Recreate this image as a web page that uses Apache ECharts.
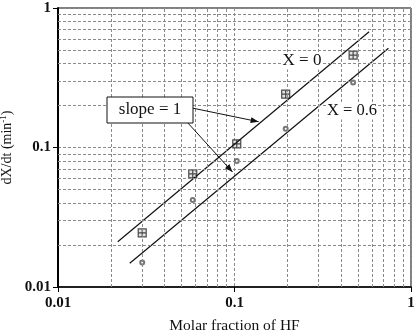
<!DOCTYPE html>
<html><head><meta charset="utf-8">
<script src="https://cdn.jsdelivr.net/npm/echarts@6/dist/echarts.min.js"></script>
<style>html,body{margin:0;padding:0;background:#fff}#c{width:414px;height:334px}</style>
</head><body><div id="c"></div>
<script>
// Data
const hfFraction = [0.03, 0.058, 0.103, 0.195, 0.47];
const rateX0 = [0.0244, 0.0646, 0.106, 0.241, 0.46];
const rateX06 = [0.015, 0.042, 0.080, 0.136, 0.292];
const fitX0x = [0.0218, 0.579];
const fitX0y = [0.0211, 0.676];
const fitX06x = [0.0255, 0.745];
const fitX06y = [0.0148, 0.514];
const minorGrid = [0.02,0.03,0.04,0.05,0.06,0.07,0.08,0.09,0.2,0.3,0.4,0.5,0.6,0.7,0.8,0.9];
const arrowTips = [[0.137, 0.153], [0.0975, 0.0667]];
const xTickLabels = {0.01:'0.01', 0.1:'0.1', 1:'1'};
const yTickLabels = {0.01:'0.01', 0.1:'0.1', 1:'1'};

const FONT = 'Liberation Serif';
const gridStyle = {color:'#8a8a8a', width:1, type:[3,2]};
const chart = echarts.init(document.getElementById('c'));
const sqPath = 'path://M0,0L10,0L10,10L0,10Z M5,0L5,10 M0,5L10,5';
const zip = (a,b) => a.map((v,i)=>[v,b[i]]);

chart.setOption({
  animation:false,
  grid:{left:58, right:3, top:8, bottom:47, show:true, borderColor:'#000', borderWidth:1,
    containLabel:false, outerBoundsMode:'none'},
  xAxis:{type:'log', min:0.01, max:1, logBase:10,
    axisLine:{lineStyle:{color:'#000', width:1.5}},
    axisTick:{show:true, length:5, lineStyle:{color:'#000'}},
    axisLabel:{fontFamily:FONT, fontSize:15, fontWeight:'bold', color:'#111', margin:9,
      formatter:v=>xTickLabels[+v.toPrecision(3)]||''},
    splitLine:{show:true, lineStyle:gridStyle},
    name:'Molar fraction of HF', nameLocation:'middle', nameGap:31,
    nameTextStyle:{fontFamily:FONT, fontSize:15.5, color:'#111'}},
  yAxis:{type:'log', min:0.01, max:1, logBase:10,
    axisLine:{show:true, lineStyle:{color:'#000', width:2}},
    axisTick:{show:true, length:5, lineStyle:{color:'#000'}},
    axisLabel:{fontFamily:FONT, fontSize:15, fontWeight:'bold', color:'#111', margin:7,
      formatter:v=>yTickLabels[+v.toPrecision(3)]||''},
    splitLine:{show:true, lineStyle:gridStyle},
    name:'{a|dX/dt (min}{s|-1}{a|)}', nameLocation:'middle', nameGap:34,
    nameTextStyle:{rich:{a:{fontFamily:FONT, fontSize:14, color:'#111'},
      s:{fontFamily:FONT, fontSize:9, color:'#111', verticalAlign:'top', padding:[0,0,6,0]}}}},
  series:[
    {type:'line', data:[], silent:true,
      markLine:{silent:true, symbol:'none', label:{show:false}, lineStyle:gridStyle,
        data:minorGrid.map(v=>({xAxis:v})).concat(minorGrid.map(v=>({yAxis:v})))}},
    {name:'X=0 fit', type:'line', data:zip(fitX0x, fitX0y), symbol:'none',
      lineStyle:{color:'#111', width:1.2}},
    {name:'X=0.6 fit', type:'line', data:zip(fitX06x, fitX06y), symbol:'none',
      lineStyle:{color:'#111', width:1.2}},
    {name:'X=0', type:'scatter', data:zip(hfFraction, rateX0), symbol:sqPath, symbolSize:8,
      itemStyle:{color:'#ddd', borderColor:'#222', borderWidth:1.2}},
    {name:'X=0.6', type:'scatter', data:zip(hfFraction, rateX06), symbol:'emptyCircle', symbolSize:4,
      itemStyle:{color:'#555', borderWidth:1}}
  ]
});

const t1 = chart.convertToPixel({gridIndex:0}, arrowTips[0]);
const t2 = chart.convertToPixel({gridIndex:0}, arrowTips[1]);
const arrowHead = (from, to) => {
  const ang = Math.atan2(to[1]-from[1], to[0]-from[0]);
  const L = 8, W = 3;
  const bx = to[0]-L*Math.cos(ang), by = to[1]-L*Math.sin(ang);
  return {type:'polygon', shape:{points:[to,
    [bx+W*Math.sin(ang), by-W*Math.cos(ang)], [bx-W*Math.sin(ang), by+W*Math.cos(ang)]]},
    style:{fill:'#111'}, z:100};
};
const s1 = [192, 108], s2 = [187, 122];
chart.setOption({graphic:[
  {type:'line', shape:{x1:s1[0], y1:s1[1], x2:t1[0], y2:t1[1]}, style:{stroke:'#111', lineWidth:1}, z:100},
  arrowHead(s1, t1),
  {type:'line', shape:{x1:s2[0], y1:s2[1], x2:t2[0], y2:t2[1]}, style:{stroke:'#111', lineWidth:1}, z:100},
  arrowHead(s2, t2),
  {type:'rect', shape:{x:107, y:97, width:86, height:26}, style:{fill:'#fff', stroke:'#111', lineWidth:1}, z:101},
  {type:'text', x:150, y:110, style:{text:'slope = 1', font:'17px "Liberation Serif"', fill:'#111', align:'center', verticalAlign:'middle'}, z:102},
  {type:'text', x:302, y:61, style:{text:'X = 0', font:'17px "Liberation Serif"', fill:'#111', align:'center', verticalAlign:'middle', backgroundColor:'#fff'}, z:102},
  {type:'text', x:352, y:111, style:{text:'X = 0.6', font:'16.5px "Liberation Serif"', fill:'#111', align:'center', verticalAlign:'middle', backgroundColor:'#fff'}, z:102}
]});
</script></body></html>
